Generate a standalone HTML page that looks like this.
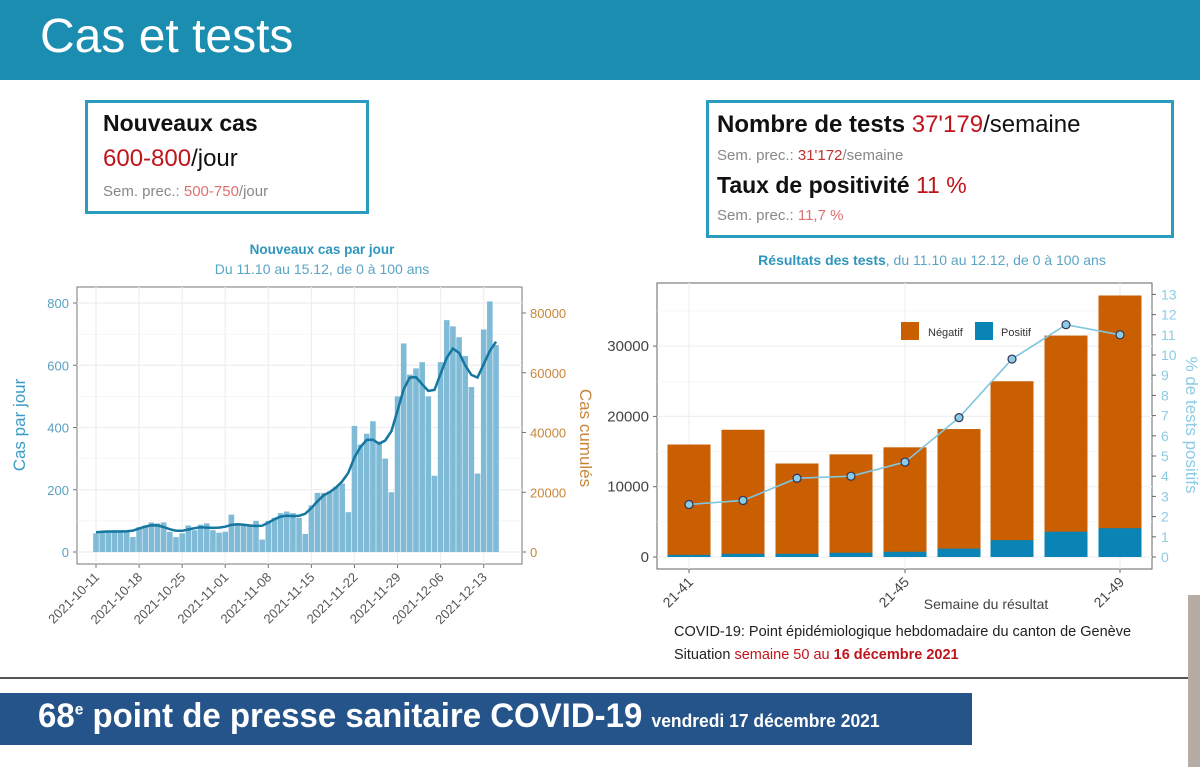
<!DOCTYPE html>
<html><head><meta charset="utf-8"><style>
html,body{margin:0;padding:0;width:1200px;height:767px;overflow:hidden;background:#fff;font-family:"Liberation Sans",sans-serif;position:relative}
.abs{position:absolute}
#hdr{left:0;top:0;width:1200px;height:80px;background:#1b8db0}
#hdr span{position:absolute;left:40px;top:9px;font-size:48px;color:#fff;font-family:"Liberation Sans",sans-serif}
.box{border:3px solid #2a9cc0;background:#fff}
</style></head><body>
<div id="hdr" class="abs"><span>Cas et tests</span></div>

<div class="abs box" style="left:85px;top:100px;width:278px;height:108px"></div>
<div class="abs" style="left:103px;top:110px;font-size:23px;font-weight:bold;color:#111">Nouveaux cas</div>
<div class="abs" style="left:103px;top:145px;font-size:24px;color:#111"><span style="color:#c0141c">600-800</span>/jour</div>
<div class="abs" style="left:103px;top:183px;font-size:15px;color:#888">Sem. prec.: <span style="color:#e07070">500-750</span>/jour</div>

<div class="abs box" style="left:706px;top:100px;width:462px;height:132px"></div>
<div class="abs" style="left:717px;top:111px;font-size:24px;color:#111"><b>Nombre de tests</b> <span style="color:#c0141c">37'179</span>/semaine</div>
<div class="abs" style="left:717px;top:147px;font-size:15px;color:#888">Sem. prec.: <span style="color:#c03030">31'172</span>/semaine</div>
<div class="abs" style="left:717px;top:172px;font-size:23px;color:#111"><b>Taux de positivité</b> <span style="color:#c0141c">11 %</span></div>
<div class="abs" style="left:717px;top:207px;font-size:15px;color:#888">Sem. prec.: <span style="color:#e07070">11,7 %</span></div>

<svg class="abs" style="left:0;top:0" width="1200" height="767" id="svg" font-family="Liberation Sans, sans-serif"></svg>

<div class="abs" style="left:0;top:677px;width:1190px;height:2px;background:#555"></div>
<div class="abs" style="left:0;top:693px;width:972px;height:52px;background:#25548a"></div>
<div class="abs" style="left:38px;top:697px;color:#fff;font-weight:bold;font-size:34px;white-space:nowrap;transform:scaleX(0.97);transform-origin:left top;font-family:'Liberation Sans Narrow','Liberation Sans',sans-serif">68<sup style="font-size:16px">e</sup> point de presse sanitaire COVID-19 <span style="font-size:18px">vendredi 17 décembre 2021</span></div>
<div class="abs" style="left:1188px;top:595px;width:12px;height:172px;background:#b5aca5"></div>

<script>
var s='';
function T(x,y,t,a){s+='<text x="'+x+'" y="'+y+'" '+(a||'')+'>'+t+'</text>';}
var L=77,R=522,Tp=287,B=564,y0=552,sc=249/800;
s+='<rect x="'+L+'" y="'+Tp+'" width="'+(R-L)+'" height="'+(B-Tp)+'" fill="#fff" stroke="#777" stroke-width="1"/>';
var vals=[60,65,65,70,70,65,48,80,85,95,92,95,65,48,60,85,70,88,92,70,62,65,120,90,85,82,100,40,100,110,125,130,125,110,58,150,190,190,195,210,220,128,405,345,380,420,355,300,192,500,670,570,590,610,500,245,610,745,725,690,630,530,252,715,805,665];
var x0=96,st=400/65;
for(var v=0;v<=800;v+=100){var yy=y0-v*sc;s+='<line x1="'+L+'" x2="'+R+'" y1="'+yy+'" y2="'+yy+'" stroke="#eee" stroke-width="'+(v%200?0.6:1.2)+'"/>';}
for(var k=0;k<10;k++){var xx=x0+k*7*st;s+='<line x1="'+xx+'" x2="'+xx+'" y1="'+Tp+'" y2="'+B+'" stroke="#eee" stroke-width="1.2"/>';}
for(var i=0;i<vals.length;i++){var x=x0+i*st,h=vals[i]*sc;s+='<rect x="'+(x-2.8)+'" y="'+(y0-h)+'" width="5.6" height="'+h+'" fill="#7fbad6"/>';}
var pts=[];for(var i=0;i<vals.length;i++){var a=0,n=0;for(var j=-3;j<=3;j++){if(vals[i+j]!==undefined){var w=4-Math.abs(j);a+=vals[i+j]*w;n+=w;}}pts.push((x0+i*st).toFixed(1)+','+(y0-a/n*sc).toFixed(1));}
s+='<polyline points="'+pts.join(' ')+'" fill="none" stroke="#1576a0" stroke-width="2.5"/>';
s+='<g font-size="13" fill="#5a9fc0" text-anchor="end">';
for(var v=0;v<=800;v+=200){var yy=y0-v*sc;T(L-8,yy+5,v);s+='<line x1="'+(L-4)+'" x2="'+L+'" y1="'+yy+'" y2="'+yy+'" stroke="#777"/>';}
s+='</g><g font-size="13" fill="#c8863a">';
for(var v=0;v<=80000;v+=20000){var yy=y0-v/80000*239;T(R+8,yy+5,v);s+='<line x1="'+R+'" x2="'+(R+4)+'" y1="'+yy+'" y2="'+yy+'" stroke="#777"/>';}
s+='</g>';
s+='<text font-size="17" fill="#3a9cc6" text-anchor="middle" transform="translate(25,425) rotate(-90)">Cas par jour</text>';
s+='<text font-size="17" fill="#c8863a" text-anchor="middle" transform="translate(580,438) rotate(90)">Cas cumulés</text>';
var dl=['2021-10-11','2021-10-18','2021-10-25','2021-11-01','2021-11-08','2021-11-15','2021-11-22','2021-11-29','2021-12-06','2021-12-13'];
for(var k=0;k<10;k++){var xx=x0+k*7*st;s+='<line x1="'+xx+'" x2="'+xx+'" y1="'+B+'" y2="'+(B+4)+'" stroke="#777"/>';s+='<text font-size="13" fill="#555" text-anchor="end" transform="translate('+(xx+4)+','+(B+14)+') rotate(-45)">'+dl[k]+'</text>';}
s+='<text x="322" y="254" font-size="13.5" font-weight="bold" fill="#2e96bd" text-anchor="middle">Nouveaux cas par jour</text>';
s+='<text x="322" y="274" font-size="14" fill="#5aa4c4" text-anchor="middle">Du 11.10 au 15.12, de 0 à 100 ans</text>';
var L2=657,R2=1152,T2=283,B2=569,z=557,ys=70.3/10000,ps=20.2;
s+='<rect x="'+L2+'" y="'+T2+'" width="'+(R2-L2)+'" height="'+(B2-T2)+'" fill="#fff" stroke="#666"/>';
for(var v=0;v<=35000;v+=5000){var yy=z-v*ys;s+='<line x1="'+L2+'" x2="'+R2+'" y1="'+yy+'" y2="'+yy+'" stroke="#f0f0f0" stroke-width="'+(v%10000?0.6:1.2)+'"/>';}
var cx=[689,743,797,851,905,959,1012,1066,1120],tot=[16000,18100,13300,14600,15600,18200,25000,31500,37200],pos=[300,450,450,600,750,1200,2400,3600,4100],pc=[2.6,2.8,3.9,4.0,4.7,6.9,9.8,11.5,11.0];
[0,4,8].forEach(function(i){s+='<line x1="'+cx[i]+'" x2="'+cx[i]+'" y1="'+T2+'" y2="'+B2+'" stroke="#f0f0f0" stroke-width="1.2"/>';});
for(var i=0;i<9;i++){s+='<rect x="'+(cx[i]-21.5)+'" y="'+(z-tot[i]*ys)+'" width="43" height="'+(tot[i]*ys)+'" fill="#c95f00"/>';s+='<rect x="'+(cx[i]-21.5)+'" y="'+(z-pos[i]*ys)+'" width="43" height="'+(pos[i]*ys)+'" fill="#0a84b4"/>';}
var pp=[];for(var i=0;i<9;i++)pp.push(cx[i]+','+(z-pc[i]*ps));
s+='<polyline points="'+pp.join(' ')+'" fill="none" stroke="#80c6e0" stroke-width="1.6"/>';
for(var i=0;i<9;i++)s+='<circle cx="'+cx[i]+'" cy="'+(z-pc[i]*ps)+'" r="4" fill="#8ccbe4" stroke="#335" stroke-width="1.2"/>';
s+='<g font-size="15" fill="#444" text-anchor="end">';
for(var v=0;v<=30000;v+=10000){var yy=z-v*ys;T(L2-8,yy+5,v);s+='<line x1="'+(L2-4)+'" x2="'+L2+'" y1="'+yy+'" y2="'+yy+'" stroke="#666"/>';}
s+='</g><g font-size="14" fill="#8ccbe4">';
for(var v=0;v<=13;v++){var yy=z-v*ps;T(R2+9,yy+5,v);s+='<line x1="'+R2+'" x2="'+(R2+4)+'" y1="'+yy+'" y2="'+yy+'" stroke="#666"/>';}
s+='</g>';
s+='<text font-size="17" fill="#8ccbe4" text-anchor="middle" transform="translate(1186,425) rotate(90)">% de tests positifs</text>';
[['21-41',0],['21-45',4],['21-49',8]].forEach(function(a){var xx=cx[a[1]];s+='<line x1="'+xx+'" x2="'+xx+'" y1="'+B2+'" y2="'+(B2+4)+'" stroke="#666"/>';s+='<text font-size="14" fill="#444" text-anchor="end" transform="translate('+(xx+5)+','+(B2+14)+') rotate(-45)">'+a[0]+'</text>';});
s+='<text x="986" y="609" font-size="14" fill="#444" text-anchor="middle">Semaine du résultat</text>';
s+='<rect x="901" y="322" width="18" height="18" fill="#c95f00"/><text x="928" y="336" font-size="11" fill="#333">Négatif</text>';
s+='<rect x="975" y="322" width="18" height="18" fill="#0a84b4"/><text x="1001" y="336" font-size="11" fill="#333">Positif</text>';
s+='<text x="932" y="265" font-size="14" text-anchor="middle" fill="#5aa4c4"><tspan font-weight="bold" fill="#2e96bd">Résultats des tests</tspan>, du 11.10 au 12.12, de 0 à 100 ans</text>';
s+='<text x="674" y="636" font-size="14.5" fill="#222">COVID-19: Point épidémiologique hebdomadaire du canton de Genève</text>';
s+='<text x="674" y="659" font-size="14.5" fill="#222">Situation <tspan fill="#c0141c">semaine 50 au </tspan><tspan fill="#c0141c" font-weight="bold">16 décembre 2021</tspan></text>';
document.getElementById('svg').innerHTML=s;
</script>
</body></html>
